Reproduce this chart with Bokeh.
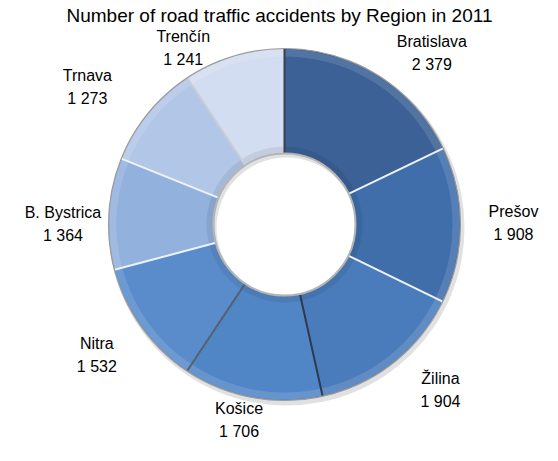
import numpy as np
from bokeh.plotting import figure
from bokeh.models import Range1d, ColumnDataSource
from bokeh.core.properties import value
from bokeh.embed import file_html
from bokeh.resources import INLINE

# ---- data ----
title_text = "Number of road traffic accidents by Region in 2011"
regions = ["Bratislava", "Prešov", "Žilina", "Košice", "Nitra", "B. Bystrica", "Trnava", "Trenčín"]
accidents = [2379, 1908, 1904, 1706, 1532, 1364, 1273, 1241]
colors = ["#3b6196", "#3f6eab", "#4a7cbb", "#5186c6", "#5a8ccc", "#93b1dd", "#b2c6e7", "#d3ddf1"]

# ---- layout (style) ----
W, H = 542, 445
PAGE_H = 461
cx, cy = 292, PAGE_H - 232
r_in, r_out = 71, 176
r_lab = 226
lab_dx = [27, 3, 16, -4, -4, 4, -22, -36]
lab_dy = [-19, 3, 12, 27, 2, -13, -5, -39]
# boundary line colours (starting with the boundary at the start of each wedge)
sep_colors = ["#3a3f4a", "#eef2f8", "#eef2f8", "#2f3a4c", "#556070", "#eef2f8", "#eef2f8", "#c8cdd6"]
FONT = value("Liberation Sans")

vals = np.array(accidents, dtype=float)
frac = vals / vals.sum()
cum = np.concatenate([[0], np.cumsum(frac)])
start = np.pi / 2 - 2 * np.pi * cum[:-1]
end = np.pi / 2 - 2 * np.pi * cum[1:]
mid = (start + end) / 2

p = figure(width=W, height=H, output_backend="svg", toolbar_location=None,
           x_range=Range1d(8, 8 + W), y_range=Range1d(PAGE_H - 8 - H, PAGE_H - 8),
           min_border=0, background_fill_color="white", border_fill_color="white")
p.axis.visible = False
p.grid.visible = False
p.outline_line_color = None

src = ColumnDataSource(dict(start=start, end=end, color=colors, name=regions, val=accidents))

# soft shadow
p.annular_wedge(x=cx + 2, y=cy - 3, inner_radius=r_in - 1, outer_radius=r_out + 2,
                start_angle=0, end_angle=2 * np.pi, fill_color="#c4c4c4", fill_alpha=0.5,
                line_color=None)

# wedges
p.annular_wedge(x=cx, y=cy, inner_radius=r_in, outer_radius=r_out,
                start_angle="start", end_angle="end", direction="clock",
                fill_color="color", line_color=None, source=src)

# bevel highlights
p.annular_wedge(x=cx, y=cy, inner_radius=r_out - 8, outer_radius=r_out - 1,
                start_angle="start", end_angle="end", direction="clock",
                fill_color="white", fill_alpha=0.12, line_color=None, source=src)
p.annular_wedge(x=cx, y=cy, inner_radius=r_in + 1, outer_radius=r_in + 7,
                start_angle="start", end_angle="end", direction="clock",
                fill_color="black", fill_alpha=0.07, line_color=None, source=src)

# boundary lines
sx0 = cx + r_in * np.cos(start)
sy0 = cy + r_in * np.sin(start)
sx1 = cx + r_out * np.cos(start)
sy1 = cy + r_out * np.sin(start)
p.segment(x0=sx0, y0=sy0, x1=sx1, y1=sy1, line_color=sep_colors, line_width=2)

# rims
p.circle(x=cx, y=cy, radius=r_out, fill_color=None, line_color="#9c9c9c", line_width=1.2)
p.circle(x=cx, y=cy, radius=r_in, fill_color=None, line_color="#b4b4b4", line_width=2)

# labels
lx = cx + r_lab * np.cos(mid) + np.array(lab_dx)
ly = cy + r_lab * np.sin(mid) + np.array(lab_dy)
vals_txt = [f"{v:,}".replace(",", " ") for v in accidents]
lab = ColumnDataSource(dict(x=lx, y1=ly + 11, y2=ly - 12, name=regions, v=vals_txt))
p.text(x="x", y="y1", text="name", source=lab, text_align="center", text_baseline="middle",
       text_font=FONT, text_font_size="16px", text_color="black")
p.text(x="x", y="y2", text="v", source=lab, text_align="center", text_baseline="middle",
       text_font=FONT, text_font_size="16px", text_color="black")

# title
p.text(x=[74], y=[PAGE_H - 23], text=[title_text], text_align="left", text_baseline="alphabetic",
       text_font=FONT, text_font_size="19px", text_color="black")

open("out.html", "w").write(file_html(p, INLINE))
